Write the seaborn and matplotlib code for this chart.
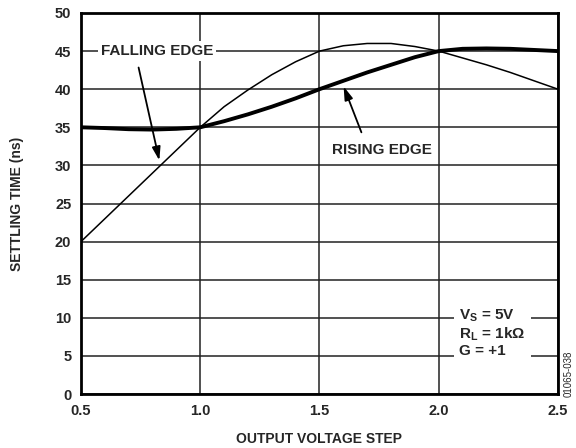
import matplotlib
matplotlib.use("Agg")
import matplotlib.pyplot as plt
import seaborn as sns
import pandas as pd

# output voltage step (V)
step = [0.5, 0.6, 0.7, 0.8, 0.9, 1.0, 1.1, 1.2, 1.3, 1.4, 1.5,
        1.6, 1.7, 1.8, 1.9, 2.0, 2.1, 2.2, 2.3, 2.4, 2.5]
# settling time (ns)
falling = [20, 23, 26, 29, 32, 35, 37.7, 39.9, 41.9, 43.6, 45,
           45.7, 46.0, 46.0, 45.6, 45, 44.1, 43.2, 42.2, 41.1, 40]
rising = [35, 34.9, 34.75, 34.7, 34.8, 35, 35.8, 36.7, 37.7, 38.8, 40,
          41.1, 42.2, 43.2, 44.2, 45, 45.3, 45.35, 45.3, 45.15, 45]

xticks = [0.5, 1.0, 1.5, 2.0, 2.5]
yticks = list(range(0, 55, 5))

df = pd.DataFrame({"step": step, "falling": falling, "rising": rising})

sns.set_style("white")
plt.rcParams['font.family'] = ['Liberation Sans', 'DejaVu Sans']
plt.rcParams['font.weight'] = 'bold'
plt.rcParams['mathtext.fontset'] = 'custom'
plt.rcParams['mathtext.bf'] = 'Liberation Sans:bold'
plt.rcParams['mathtext.rm'] = 'Liberation Sans:bold'

fig = plt.figure(figsize=(5.76, 4.48), dpi=100)
ax = fig.add_axes([0.1406, 0.1205, 0.8281, 0.8505])

sns.lineplot(data=df, x="step", y="falling", ax=ax, color="black", linewidth=1.1)
sns.lineplot(data=df, x="step", y="rising", ax=ax, color="black", linewidth=2.8)

ax.set_xlim(0.5, 2.5)
ax.set_ylim(0, 50)
ax.set_xticks(xticks)
ax.set_xticklabels([f"{t:.1f}" for t in xticks])
ax.set_yticks(yticks)
ax.grid(True, color="#222222", linewidth=1.1)
ax.set_axisbelow(True)
for s in ax.spines.values():
    s.set_color("black")
    s.set_linewidth(2)
ax.tick_params(length=0, labelsize=10.5, pad=7)
for lbl in ax.get_xticklabels() + ax.get_yticklabels():
    lbl.set_fontweight("bold")

ax.set_xlabel("OUTPUT VOLTAGE STEP", fontsize=10, fontweight="bold", labelpad=10)
ax.set_ylabel("SETTLING TIME (ns)", fontsize=10, fontweight="bold", labelpad=22)

box = dict(facecolor="white", edgecolor="none", pad=2)
ax.text(0.818, 45, "FALLING EDGE", ha="center", va="center", fontsize=11,
        fontweight="bold", bbox=box, zorder=5)
ax.annotate("", xy=(0.831, 30.3), xytext=(0.739, 43.2),
            arrowprops=dict(arrowstyle="-|>,head_length=0.8,head_width=0.25",
                            color="black", lw=1.3), zorder=5)
ax.text(1.76, 32.0, "RISING EDGE", ha="center", va="center", fontsize=11,
        fontweight="bold", zorder=5)
ax.annotate("", xy=(1.597, 40.7), xytext=(1.68, 34.0),
            arrowprops=dict(arrowstyle="-|>,head_length=0.8,head_width=0.25",
                            color="black", lw=1.3), zorder=5)

ax.text(2.087, 8.0, "V$_\\mathbf{S}$ = 5V\nR$_\\mathbf{L}$ = 1k\u03a9\nG = +1",
        ha="left", va="center", fontsize=11, fontweight="bold", linespacing=1.1,
        bbox=dict(facecolor="white", edgecolor="none", pad=4), zorder=5)

fig.text(0.988, 0.165, "01065-038", rotation=90, ha="center", va="center",
         fontsize=7, fontweight="normal")

fig.savefig("out.png", dpi=100)
